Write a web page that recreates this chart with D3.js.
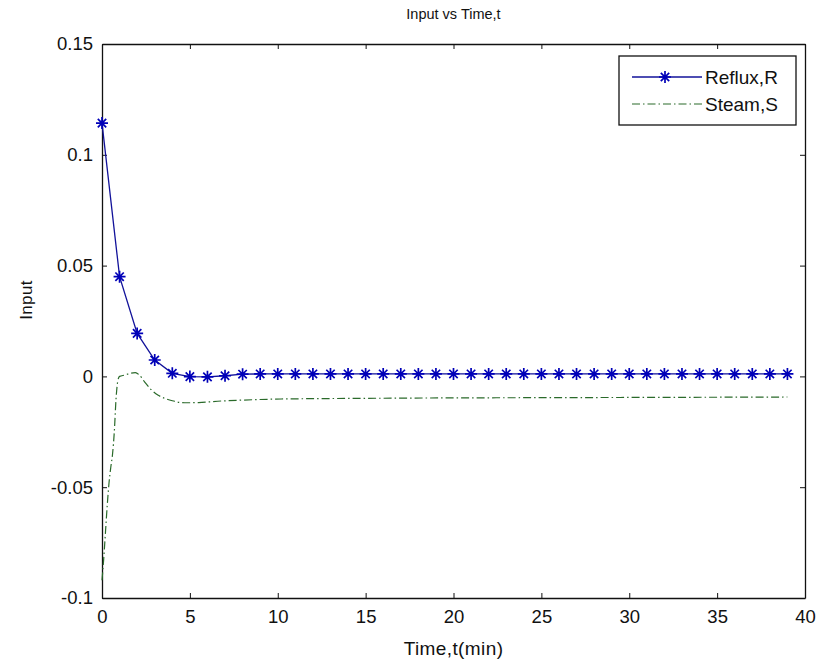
<!DOCTYPE html>
<html>
<head>
<meta charset="UTF-8">
<title>Input vs Time,t</title>
<script src="https://cdnjs.cloudflare.com/ajax/libs/d3/7.8.5/d3.min.js"></script>
<style>
    body { margin: 0; background: #fff; }
    svg { display: block; }
    text { font-family: 'Liberation Sans', Arial, sans-serif; fill: #111; }
</style>
</head>
<body>
<svg id="chart" width="820" height="659"></svg>
<script>
    // Reflux, R: sampled once a minute, t = 0..39
    const refluxT = d3.range(0, 40);
    const refluxV = [0.1143, 0.0450, 0.0194, 0.0074, 0.0014, -0.0001, -0.0002, 0.0003,
        0.0010, 0.0011, 0.0011, 0.0011, 0.0011, 0.0011, 0.0011, 0.0011, 0.0011, 0.0011,
        0.0011, 0.0011, 0.0011, 0.0011, 0.0011, 0.0011, 0.0011, 0.0011, 0.0011, 0.0011,
        0.0011, 0.0011, 0.0011, 0.0011, 0.0011, 0.0011, 0.0011, 0.0011, 0.0011, 0.0011,
        0.0011, 0.0011];

    // Steam, S: finer sampling
    const steamT = [0, 0.1, 0.2, 0.3, 0.4, 0.5, 0.6, 0.7, 0.8, 0.9, 1.0, 1.3, 1.6, 1.9, 2.1,
        2.4, 2.8, 3.2, 3.6, 4.0, 4.7, 5.5, 6.8, 8, 10.2, 15, 20, 25, 30, 35, 39];
    const steamV = [-0.092, -0.082, -0.070, -0.058, -0.048, -0.041, -0.035, -0.025, -0.010,
        -0.002, 0.000, 0.0006, 0.0014, 0.0017, 0.0008, -0.0022, -0.0060, -0.0085, -0.0100,
        -0.0110, -0.0119, -0.0118, -0.0111, -0.0107, -0.0102, -0.0099, -0.0097, -0.0096,
        -0.0095, -0.0094, -0.0093];

    const xTicks = [0, 5, 10, 15, 20, 25, 30, 35, 40];
    const yTicks = [-0.1, -0.05, 0, 0.05, 0.1, 0.15];
    const yTickLabels = ["-0.1", "-0.05", "0", "0.05", "0.1", "0.15"];
    const seriesNames = ["Reflux,R", "Steam,S"];

    const pLeft = 102, pRight = 805, pTop = 44, pBottom = 598;
    const blue = "#12129a", green = "#2a6a2a";
    const dash = "8,3,1.5,3";

    const svg = d3.select("#chart");
    const x = d3.scaleLinear().domain([0, 40]).range([pLeft, pRight]);
    const y = d3.scaleLinear().domain([-0.1, 0.15]).range([pBottom, pTop]);

    // axes, ticks pointing inward on all four sides
    svg.append("g").attr("transform", `translate(0,${pBottom})`)
        .call(d3.axisBottom(x).tickValues(xTicks).tickSizeInner(-5).tickSizeOuter(0).tickPadding(12))
        .call(g => g.selectAll("text").attr("font-size", 18.5));
    svg.append("g").attr("transform", `translate(0,${pTop})`)
        .call(d3.axisTop(x).tickValues(xTicks).tickSizeInner(-5).tickSizeOuter(0).tickFormat(""));
    svg.append("g").attr("transform", `translate(${pLeft},0)`)
        .call(d3.axisLeft(y).tickValues(yTicks).tickSizeInner(-5).tickSizeOuter(0).tickPadding(9)
            .tickFormat((d, i) => yTickLabels[i]))
        .call(g => g.selectAll("text").attr("font-size", 18.5));
    svg.append("g").attr("transform", `translate(${pRight},0)`)
        .call(d3.axisRight(y).tickValues(yTicks).tickSizeInner(-5).tickSizeOuter(0).tickFormat(""));
    svg.selectAll(".domain").attr("stroke", "#111").attr("stroke-width", 1.3);
    svg.selectAll(".tick line").attr("stroke", "#111");

    const refluxPts = refluxT.map((t, i) => [t, refluxV[i]]);
    const steamPts = steamT.map((t, i) => [t, steamV[i]]);

    svg.append("path").datum(steamPts)
        .attr("d", d3.line().x(d => x(d[0])).y(d => y(d[1])).curve(d3.curveMonotoneX))
        .attr("fill", "none").attr("stroke", green).attr("stroke-width", 1.2)
        .attr("stroke-dasharray", dash);

    svg.append("path").datum(refluxPts)
        .attr("d", d3.line().x(d => x(d[0])).y(d => y(d[1])))
        .attr("fill", "none").attr("stroke", blue).attr("stroke-width", 1.3);

    function star(g, r) {
        g.append("path")
            .attr("d", `M${-r},0H${r}M0,${-r}V${r}M${-r * 0.7},${-r * 0.7}L${r * 0.7},${r * 0.7}M${-r * 0.7},${r * 0.7}L${r * 0.7},${-r * 0.7}`)
            .attr("stroke", "#0000b8").attr("stroke-width", 1.7).attr("fill", "none");
    }

    svg.append("g").selectAll("g").data(refluxPts).enter().append("g")
        .attr("transform", d => `translate(${x(d[0])},${y(d[1])})`)
        .each(function() { star(d3.select(this), 6); });

    // labels
    svg.append("text").attr("x", (pLeft + pRight) / 2).attr("y", 19)
        .attr("text-anchor", "middle").attr("font-size", 14.5).text("Input vs Time,t");
    svg.append("text").attr("x", (pLeft + pRight) / 2).attr("y", 655)
        .attr("text-anchor", "middle").attr("font-size", 19).attr("letter-spacing", 0.4)
        .text("Time,t(min)");
    svg.append("text").attr("transform", "translate(32,300) rotate(-90)")
        .attr("text-anchor", "middle").attr("font-size", 17).attr("letter-spacing", 0.3)
        .text("Input");

    // legend
    const leg = svg.append("g");
    leg.append("rect").attr("x", 619).attr("y", 56).attr("width", 177).attr("height", 69)
        .attr("fill", "#fff").attr("stroke", "#111").attr("stroke-width", 1.3);
    const rows = [77, 104];
    leg.append("line").attr("x1", 632).attr("x2", 702).attr("y1", rows[0]).attr("y2", rows[0])
        .attr("stroke", blue).attr("stroke-width", 1.3);
    star(leg.append("g").attr("transform", `translate(665,${rows[0]})`), 6);
    leg.append("line").attr("x1", 632).attr("x2", 702).attr("y1", rows[1]).attr("y2", rows[1])
        .attr("stroke", green).attr("stroke-width", 1.2).attr("stroke-dasharray", dash);
    leg.selectAll("text.lab").data(seriesNames).enter().append("text")
        .attr("class", "lab").attr("x", 705).attr("y", (d, i) => rows[i] + 7)
        .attr("font-size", 19).text(d => d);
</script>
</body>
</html>
